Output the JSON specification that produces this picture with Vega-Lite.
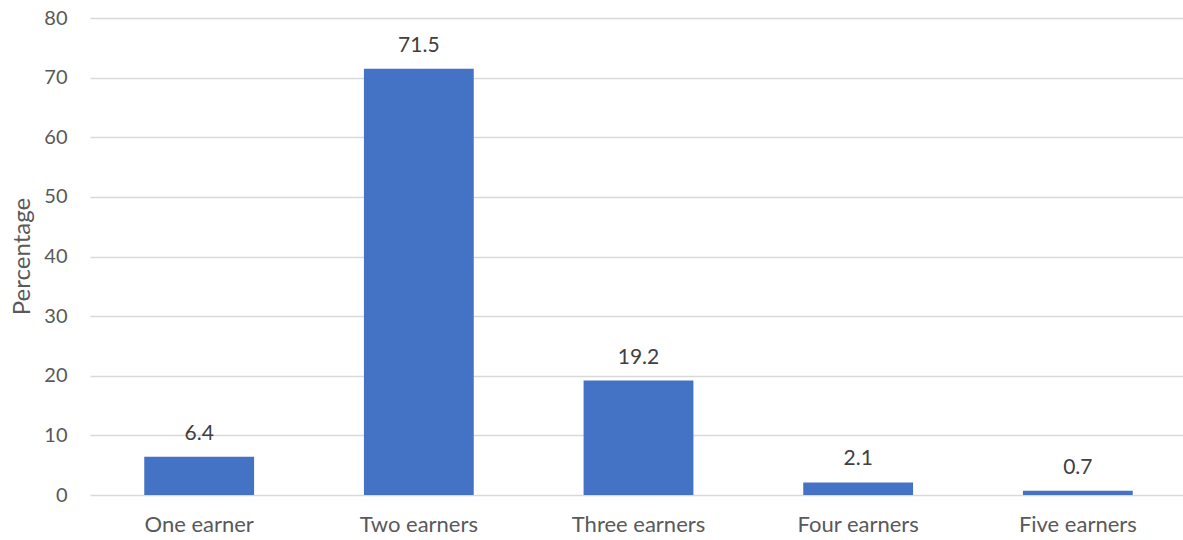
{
  "$schema": "https://vega.github.io/schema/vega-lite/v6.json",
  "width": 1093,
  "height": 477,
  "autosize": {"type": "none"},
  "padding": {"left": 90, "top": 18, "right": 0, "bottom": 45},
  "background": "white",
  "data": {"values": [
    {"category": "One earner", "value": 6.4},
    {"category": "Two earners", "value": 71.5},
    {"category": "Three earners", "value": 19.2},
    {"category": "Four earners", "value": 2.1},
    {"category": "Five earners", "value": 0.7}
  ]},
  "config": {
    "view": {"stroke": null},
    "font": "Lato",
    "axis": {"labelFont": "Lato", "titleFont": "Lato"}
  },
  "encoding": {
    "x": {
      "field": "category", "type": "nominal", "sort": null,
      "scale": {"paddingInner": 0.5, "paddingOuter": 0.247, "range": [0, 1097]},
      "axis": {"title": null, "labelAngle": 0, "labelFontSize": 22, "labelColor": "#595959", "labelPadding": 19, "ticks": false, "domain": false, "grid": false}
    },
    "y": {
      "field": "value", "type": "quantitative",
      "scale": {"domain": [0, 80], "nice": false},
      "axis": {"title": "Percentage", "values": [0,10,20,30,40,50,60,70,80], "labelFontSize": 20, "labelColor": "#595959", "labelPadding": 23, "ticks": false, "domain": false, "gridColor": "#d9d9d9", "gridWidth": 1.3,
        "titleFontSize": 24, "titleFontWeight": "normal", "titleColor": "#595959", "titleX": -80, "titleY": 238, "titleAngle": -90, "titleAlign": "center", "titleBaseline": "top"}
    }
  },
  "layer": [
    {"mark": {"type": "bar", "color": "#4472C4"}},
    {"mark": {"type": "text", "baseline": "alphabetic", "dy": -17, "fontSize": 21, "color": "#404040"},
     "encoding": {"text": {"field": "value", "type": "quantitative", "format": ".1f"}}}
  ]
}
